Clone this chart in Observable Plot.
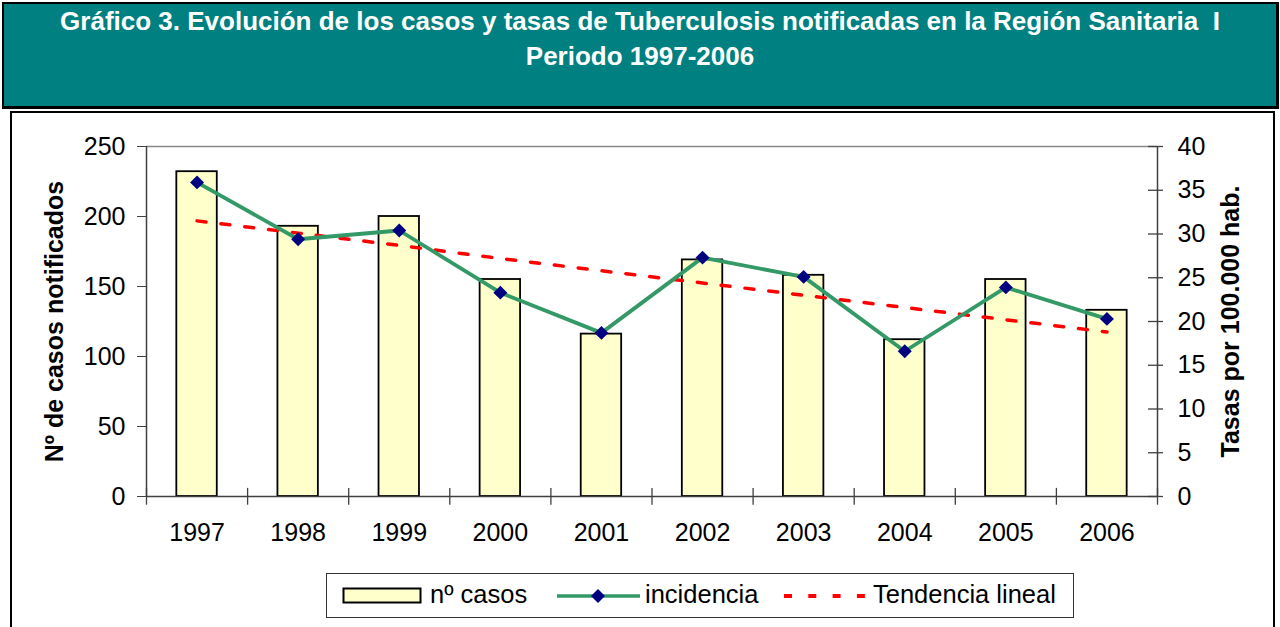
<!DOCTYPE html>
<html>
<head>
<meta charset="utf-8">
<script src="https://cdn.jsdelivr.net/npm/d3@7"></script>
<script src="https://cdn.jsdelivr.net/npm/@observablehq/plot@0.6"></script>
<style>
  html, body { margin: 0; padding: 0; background: #fff; width: 1280px; height: 627px; overflow: hidden; font-family: "Liberation Sans", Arial, sans-serif; }
  #header { position: absolute; left: 2px; top: 2px; width: 1272px; height: 102px; background: #008080; border: 2px solid #000; border-right-width: 3px; border-bottom-width: 3px; color: #fff; font-weight: bold; font-size: 26px; text-align: center; white-space: nowrap; }
  #header .l1 { position: absolute; left: 0; right: 0; top: 2px; line-height: 30px; }
  #header .l2 { position: absolute; left: 0; right: 0; top: 37px; line-height: 30px; }
  #box { position: absolute; left: 10px; top: 111px; width: 1261px; height: 530px; border: 2px solid #000; }
  #chart { position: absolute; left: 0; top: 112px; }
  #legend { position: absolute; left: 326px; top: 573px; width: 746px; height: 43px; border: 1px solid #333; background: #fff; font-size: 25.5px; color: #000; }
  #legend .sw { position: absolute; }
  #legend .tx { position: absolute; top: 5px; line-height: 30px; white-space: nowrap; }
</style>
</head>
<body>
<div id="header">
  <div class="l1">Gráfico 3. Evolución de los casos y tasas de Tuberculosis notificadas en la Región Sanitaria&nbsp; I</div>
  <div class="l2">Periodo 1997-2006</div>
</div>
<div id="box"></div>
<div id="chart"></div>
<div id="legend">
  <svg class="sw" style="left:15px;top:13px" width="82" height="18"><rect x="1.5" y="1.5" width="77" height="14" fill="#FFFFCC" stroke="#000" stroke-width="2"/></svg>
  <div class="tx" style="left:103px">nº casos</div>
  <svg class="sw" style="left:229px;top:14px" width="86" height="16"><line x1="1" y1="8" x2="84" y2="8" stroke="#339966" stroke-width="3.5"/><path d="M42,1 L49,8 L42,15 L35,8 Z" fill="#000080"/></svg>
  <div class="tx" style="left:318px">incidencia</div>
  <svg class="sw" style="left:457px;top:20px" width="84" height="4"><line x1="0" y1="2" x2="84" y2="2" stroke="#FF0000" stroke-width="4" stroke-dasharray="8,16.3"/></svg>
  <div class="tx" style="left:546px">Tendencia lineal</div>
</div>
<script>
const years = [1997, 1998, 1999, 2000, 2001, 2002, 2003, 2004, 2005, 2006];
const casos = [232, 193, 200, 155, 116, 169, 158, 112, 155, 133];
const incidencia = [35.9, 29.4, 30.4, 23.3, 18.7, 27.3, 25.1, 16.6, 23.9, 20.3];
const tendencia = [31.5, 30.1, 28.7, 27.2, 25.8, 24.4, 23.0, 21.6, 20.2, 18.8];
const leftTicks = [0, 50, 100, 150, 200, 250];
const rightTicks = [0, 5, 10, 15, 20, 25, 30, 35, 40];

const k = 250 / 40; // right axis (tasas) mapped onto left axis (casos)
const data = years.map((y, i) => ({year: y, casos: casos[i], inc: incidencia[i] * k, tend: tendencia[i] * k}));
const bounds = d3.range(1996.5, 2007, 1);
const rt = rightTicks.map(d => d * k);

const font = "Liberation Sans, Arial, sans-serif";
const ml = 146, mr = 123, W = 1280;
const pxPerYear = (W - ml - mr) / 10;
const chart = Plot.plot({
  width: W,
  height: 460,
  marginLeft: ml,
  marginRight: mr,
  marginTop: 34,
  marginBottom: 76,
  style: {fontFamily: font, fontSize: "25px", color: "#000", background: "transparent", overflow: "visible"},
  x: {type: "linear", domain: [1996.5, 2006.5]},
  y: {domain: [0, 250]},
  marks: [
    Plot.ruleY([250], {stroke: "#888", strokeWidth: 1.5}),
    Plot.rectY(data, {x1: d => d.year - 0.2, x2: d => d.year + 0.2, y: "casos", fill: "#FFFFCC", stroke: "#000", strokeWidth: 1.8}),
    Plot.line(data, {x: "year", y: "tend", stroke: "#FF0000", strokeWidth: 3.5, strokeDasharray: "9,15"}),
    Plot.line(data, {x: "year", y: "inc", stroke: "#339966", strokeWidth: 3.8}),
    Plot.dot(data, {x: "year", y: "inc", symbol: "diamond2", r: 6.3, fill: "#000080", stroke: "none"}),
    Plot.ruleY([0], {stroke: "#404040", strokeWidth: 1.5}),
    Plot.ruleX([1996.5, 2006.5], {stroke: "#404040", strokeWidth: 1.5}),
    Plot.ruleX(bounds, {y1: -6.2, y2: 5.8, stroke: "#404040", strokeWidth: 1.3}),
    Plot.ruleY(rt, {x1: 2006.5 - 9 / pxPerYear, x2: 2006.5 + 6 / pxPerYear, stroke: "#404040", strokeWidth: 1.3}),
    Plot.axisY({ticks: leftTicks, tickSize: 9, tickPadding: 12, fontSize: 25, label: null, stroke: "#404040"}),
    Plot.axisY({anchor: "right", ticks: rt, tickFormat: d => String(Math.round(d / k)), tickSize: 0, tickPadding: 20, fontSize: 25, label: null}),
    Plot.axisX({ticks: years, tickFormat: d => String(d), tickSize: 0, tickPadding: 27, fontSize: 25, label: null}),
    Plot.text(["Nº de casos notificados"], {frameAnchor: "left", textAnchor: "middle", rotate: -90, dx: -92, fontWeight: "bold", fontSize: 25, fill: "#000"}),
    Plot.text(["Tasas por 100.000 hab."], {frameAnchor: "right", textAnchor: "middle", rotate: -90, dx: 73, fontWeight: "bold", fontSize: 25, fill: "#000"})
  ]
});
document.getElementById("chart").appendChild(chart);
</script>
</body>
</html>
